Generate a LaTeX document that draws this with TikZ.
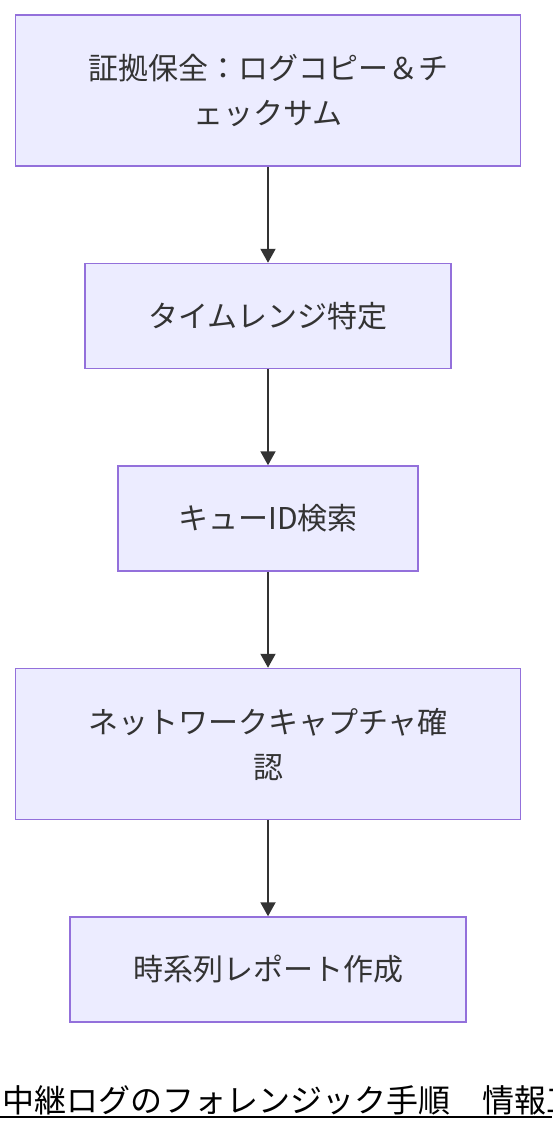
\documentclass[tikz,border=0pt]{standalone}
\usepackage{fontspec}
\setmainfont{Noto Sans CJK JP}
\usepackage{tikz}
\usetikzlibrary{arrows.meta,
                positioning}
\definecolor{boxfill}{HTML}{ECECFF}
\definecolor{boxline}{HTML}{9370DB}
\definecolor{txtgray}{HTML}{333333}
\tikzset{
        base/.style={draw=boxline, fill=boxfill, line width=1.5pt,
                     align=center, text=txtgray,
                     font=\fontsize{30pt}{45pt}\selectfont},
        proc/.style={base, rectangle, minimum height=105pt},
        tallproc/.style={base, rectangle, minimum height=151pt},
        myarrow/.style={-{Triangle[length=14pt, width=15pt]},
                        line width=2pt, draw=txtgray},
 }

\begin{document}
\begin{tikzpicture}[node distance=96pt]
        \useasboundingbox (0,0) rectangle (552pt,-1132pt);

        \node[tallproc, minimum width=505pt] (keep) at (268pt,-90.5pt)
             {証拠保全：ログコピー＆チ\\ェックサム};
        \node[proc, minimum width=366pt, below = of keep] (range)
             {タイムレンジ特定};
        \node[proc, minimum width=300pt, below = of range] (queue)
             {キューID検索};
        \node[tallproc, minimum width=505pt, below = of queue] (capture)
             {ネットワークキャプチャ確\\認};
        \node[proc, minimum width=396pt, below = of capture] (report)
             {時系列レポート作成};

        \node[anchor=west, inner sep=0pt, text=black,
              font=\fontsize{32pt}{38pt}\selectfont] (title) at (2pt,-1100pt)
             {中継ログのフォレンジック手順　情報工};
        \draw[line width=2pt] (0pt,-1117pt) -- (552pt,-1117pt);

        \draw[myarrow] (keep) -- (range);
        \draw[myarrow] (range) -- (queue);
        \draw[myarrow] (queue) -- (capture);
        \draw[myarrow] (capture) -- (report);

\end{tikzpicture}
\end{document}
